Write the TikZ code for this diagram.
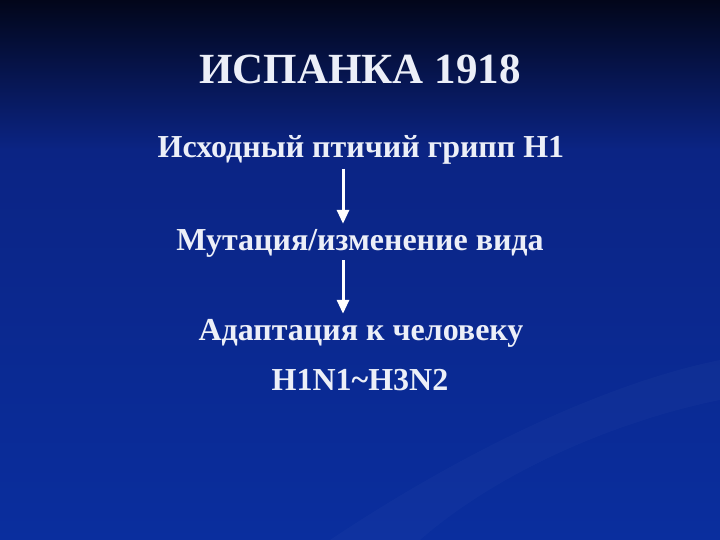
\documentclass[tikz,border=0pt]{standalone}
\usepackage{fontspec}
\setmainfont{Liberation Serif}
\usepackage{tikz}
\usetikzlibrary{arrows.meta}
\definecolor{slidetop}{HTML}{02061A}
\definecolor{slidemid}{HTML}{0B2484}
\definecolor{slidelow}{HTML}{0A2E9E}
\definecolor{slidetext}{HTML}{ECEFF8}
\tikzset{
  slidetitle/.style={text=slidetext, inner sep=0pt, font=\bfseries\fontsize{43}{48}\selectfont},
  slideline/.style={text=slidetext, inner sep=0pt, font=\bfseries\fontsize{32}{36}\selectfont},
  flow/.style={draw=white, line width=3pt, -{Triangle[width=12pt,length=14pt]}}
}

\begin{document}
\begin{tikzpicture}[x=1pt, y=-1pt]
        \useasboundingbox (0,0) rectangle (720,540);
        \shade[top color=slidetop, bottom color=slidemid] (0,0) rectangle (720,150);
        \shade[top color=slidemid, bottom color=slidelow] (0,150) rectangle (720,540);
        \fill[white, opacity=0.025] (330,540) .. controls (480,440) and (620,380) .. (720,360) -- (720,400) .. controls (620,420) and (500,470) .. (420,540) -- cycle;
        \node[slidetitle] (title) at (360,69) {ИСПАНКА 1918};
        \node[slideline] (birdflu) at (361,150) {Исходный птичий грипп H1};
        \node[slideline] (mutation) at (360,243) {Мутация/изменение вида};
        \node[slideline] (adapt) at (361,333) {Адаптация к человеку};
        \node[slideline] (strains) at (360,380) {H1N1\textasciitilde H3N2};
        \coordinate (ax) at (343,0);
        \draw[flow] ([yshift=-4pt]birdflu.south -| ax) -- ([yshift=5pt]mutation.north -| ax);
        \draw[flow] ([yshift=-3pt]mutation.south -| ax) -- ([yshift=5pt]adapt.north -| ax);
\end{tikzpicture}
\end{document}
